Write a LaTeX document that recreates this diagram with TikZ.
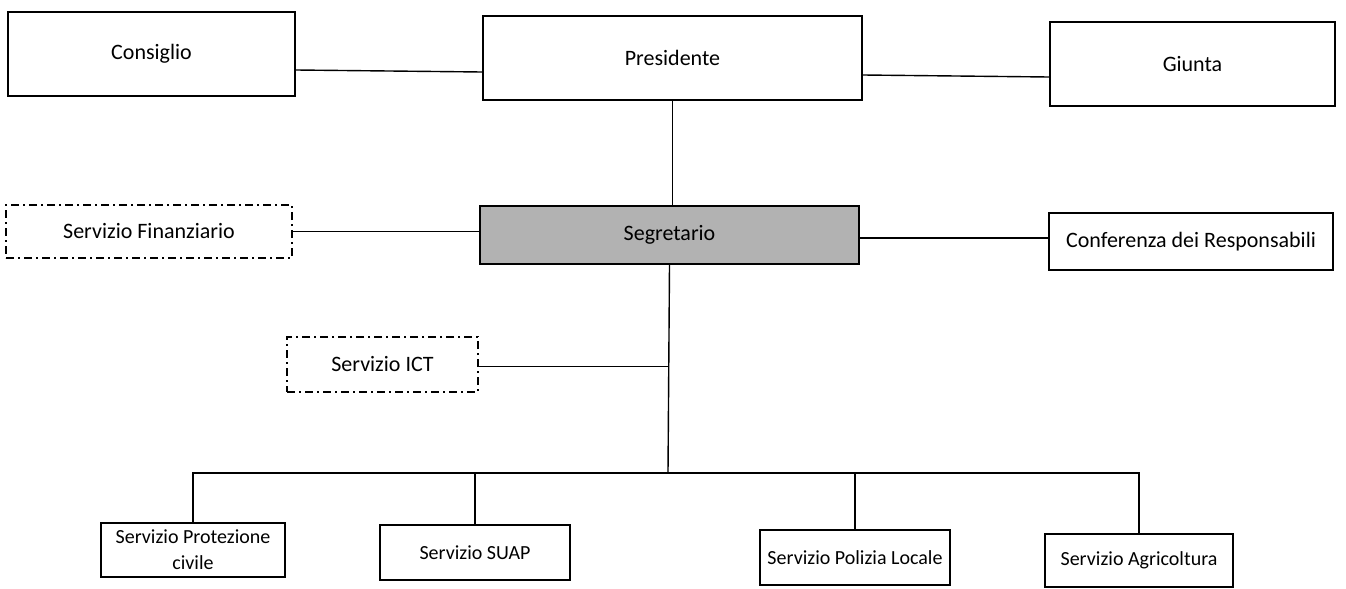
\documentclass[tikz,border=0pt]{standalone}
\usepackage{fontspec}
\setmainfont{Carlito}
\usetikzlibrary{calc}
\tikzset{
	ufficio/.style={draw, line width=1.1pt, fill=white, inner sep=0pt, align=center, font=\fontsize{11}{13}\selectfont},
	servizio/.style={draw, line width=1.1pt, fill=white, inner sep=0pt, align=center, font=\fontsize{10}{13}\selectfont},
	staff/.style={draw, line width=0.7pt, dash pattern=on 4pt off 2pt on 1pt off 2pt, inner sep=0pt, font=\fontsize{11}{13}\selectfont},
	filo/.style={line width=0.7pt}
}

\begin{document}
\begin{tikzpicture}[x=0.5pt, y=-0.5pt]
			%%%%% START %%%%%
			\useasboundingbox (0, 0) rectangle (1346, 589);
			
			\node[ufficio, minimum width=143.5pt, minimum height=42pt] (cons) at (151.5, 54) {Consiglio};
			\node[ufficio, minimum width=189.5pt, minimum height=42pt] (pres) at (672.5, 58) {Presidente};
			\node[ufficio, minimum width=142.5pt, minimum height=42pt] (giun) at (1192.5, 64) {Giunta};
			
			\draw[filo] ([yshift=-8pt]cons.east) -- ([yshift=-7pt]pres.west);
			\draw[filo] ([yshift=-8.5pt]pres.east) -- ([yshift=-6.5pt]giun.west);
			
			\node[staff, minimum width=143pt, minimum height=26.5pt] (fin) at (149, 231.5) {Servizio Finanziario};
			\node[ufficio, fill=black!30, minimum width=189.5pt, minimum height=29pt] (segr) at (669.5, 235) {Segretario};
			\node[ufficio, minimum width=142pt, minimum height=28.5pt] (conf) at (1191, 241.5) {Conferenza dei Responsabili};
			
			\draw[filo] (pres.south) -- (pres.south |- segr.north);
			\draw[filo] (fin.east) -- (fin.east -| segr.west);
			\draw[filo] ([yshift=-1.5pt]segr.east) -- ([yshift=-1.5pt]segr.east -| conf.west);
			
			\node[staff, minimum width=95.5pt, minimum height=27.5pt] (ict) at (382.5, 364.5) {Servizio ICT};
			
			\coordinate (bus) at (668, 473);
			\draw[filo] (segr.south) -- (bus);
			\draw[filo] ([yshift=-1pt]ict.east) -- ([yshift=-1pt]ict.east -| bus);
			
			\node[servizio, minimum width=92pt, minimum height=27pt] (prot) at (193, 550) {Servizio Protezione\\civile};
			\node[servizio, minimum width=95pt, minimum height=27.5pt] (suap) at (475, 552.5) {Servizio SUAP};
			\node[servizio, minimum width=95pt, minimum height=27.5pt] (pol) at (855, 557.5) {Servizio Polizia Locale};
			\node[servizio, minimum width=94pt, minimum height=26.5pt] (agr) at (1139, 560.5) {Servizio Agricoltura};
			
			\draw[filo] (prot.north) -- (prot.north |- bus) -- (agr.north |- bus) -- (agr.north);
			\draw[filo] (suap.north) -- (suap.north |- bus);
			\draw[filo] (pol.north) -- (pol.north |- bus);
			
			%%%%% END %%%%%
\end{tikzpicture}
\end{document}
